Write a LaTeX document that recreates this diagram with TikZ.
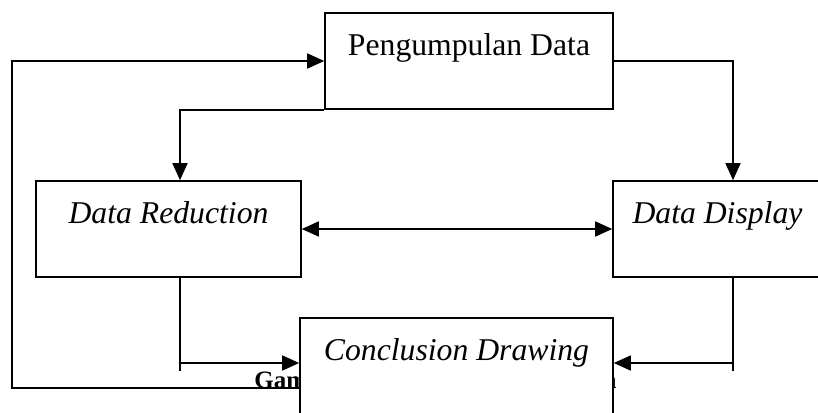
\documentclass[tikz,border=0pt]{standalone}
\usepackage{fontspec}
\setmainfont{Liberation Serif}
\usetikzlibrary{arrows.meta, positioning}

\begin{document}
\begin{tikzpicture}[
  x=0.5pt, y=-0.5pt,
  every node/.style={font=\fontsize{15.85}{19}\selectfont},
  box/.style={draw, fill=white, line width=0.8pt, inner sep=0pt,
    text height=21pt, text depth=27pt, minimum width=#1},
  conn/.style={line width=0.8pt},
  arr/.style={conn, -{Triangle[length=8.5pt,width=7.5pt]}},
  arrs/.style={conn, {Triangle[length=8.5pt,width=7.5pt]}-{Triangle[length=8.5pt,width=7.5pt]}},
  captext/.style={font=\fontsize{12.5}{14}\selectfont\bfseries, inner sep=0pt}
]
\clip (0,0) rectangle (818,412);
% boxes
\node[box=144pt] (pd) at (469,61) {Pengumpulan Data};
\node[box=132.5pt] (dr) at (168.5,229) {\textit{Data Reduction}};
\node[box=104.5pt] (dd) at (717.5,229) {\textit{Data Display}};
% caption, mostly hidden under the conclusion box
\node[captext, anchor=base west] (capl) at (254,388) {Gam};
\node[captext, anchor=base east] (capr) at (617,388) {n};
\node[box=156.5pt] (cd) at (456.5,366) {\textit{Conclusion Drawing}};
% bends and line ends
\coordinate (lb) at (180,363);
\coordinate (le) at (180,371);
\coordinate (rb) at (733,363);
\coordinate (re) at (733,371);
\coordinate (fb) at (12,388);
% connectors
\draw[arr] (pd.south west) -| (le |- dr.north);
\draw[arr] (pd.east) -| (re |- dd.north);
\draw[arrs] (dr.east) -- (dd.west);
\draw[conn] (le |- dr.south) -- (le);
\draw[arr] (lb) -- (lb -| cd.west);
\draw[conn] (re |- dd.south) -- (re);
\draw[arr] (rb) -- (rb -| cd.east);
\draw[arr] (fb -| cd.west) -- (fb) |- (pd.west);
\end{tikzpicture}
\end{document}
